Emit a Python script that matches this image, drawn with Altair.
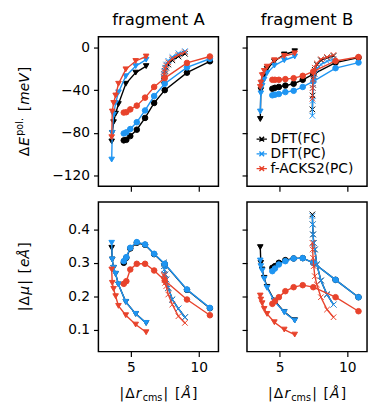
import altair as alt
import pandas as pd

methods = ["DFT(FC)", "DFT(PC)", "f-ACKS2(PC)"]
colors = ["#000000", "#1f95f2", "#e8432c"]

x_tri = [3.58, 3.62, 3.72, 3.87, 4.08, 4.62, 5.35, 6.12]
x_circ = [4.47, 4.66, 4.95, 5.43, 6.04, 6.71, 7.49, 9.13, 10.82]
x_cross = [7.42, 7.44, 7.47, 7.52, 7.6, 7.75, 8.05, 8.5, 8.98]

# fragment A, polarization energy [meV]
eA_tri_fc = [-88, -80, -70, -62, -53, -34, -23.6, -17.5]
eA_tri_pc = [-105, -80, -63, -52, -42, -27, -17.5, -11.5]
eA_tri_ack = [-84, -60, -52, -45, -34, -20.5, -12.7, -8.5]
eA_circ_fc = [-87, -86.5, -83, -77, -66, -52, -40, -23.6, -13]
eA_circ_pc = [-80.5, -79.5, -76.4, -70, -59, -45.5, -34, -18.7, -10.6]
eA_circ_ack = [-61, -60.6, -58, -54.5, -47, -37, -28.7, -14.5, -8.5]
eA_cross_fc = [-31, -28, -25, -22, -19, -16, -12, -8.5, -6]
eA_cross_pc = [-28, -25, -22, -19, -16, -12.5, -9, -5.5, -3.5]
eA_cross_ack = [-29, -26, -23, -20, -17, -14, -10.5, -7, -4.5]

# fragment B, polarization energy [meV]
eB_tri_fc = [-67, -40, -33, -26, -20, -13, -6.6, -3.6]
eB_tri_pc = [-60, -43, -36, -30, -24, -17, -12, -8.5]
eB_tri_ack = [-37, -33, -26, -22, -18, -12, -8, -5.5]
eB_circ_fc = [-38.7, -37.8, -37, -35.7, -34, -30.3, -25, -14.2, -9.6]
eB_circ_pc = [-44.8, -44.2, -43.6, -41.8, -40.6, -37, -31.8, -19.4, -14.2]
eB_circ_ack = [-30.3, -30.3, -30.3, -29.7, -28.8, -26.6, -22.5, -12.7, -9]
eB_cross_fc = [-58, -45, -35, -27, -21, -16, -12, -9.5, -8]
eB_cross_pc = [-64, -50, -38, -30, -25, -20, -16, -13, -11]
eB_cross_ack = [-48, -38, -30, -24, -19, -15, -11, -9, -7]

# fragment A, dipole change [eÅ]
mA_tri_fc = [0.345, 0.31, 0.285, 0.267, 0.235, 0.183, 0.147, 0.12]
mA_tri_pc = [0.36, 0.31, 0.285, 0.267, 0.235, 0.183, 0.147, 0.12]
mA_tri_ack = [0.28, 0.24, 0.222, 0.2, 0.171, 0.143, 0.115, 0.092]
mA_circ_fc = [0.30, 0.315, 0.343, 0.36, 0.354, 0.326, 0.296, 0.219, 0.164]
mA_circ_pc = [0.305, 0.317, 0.345, 0.362, 0.355, 0.327, 0.297, 0.22, 0.165]
mA_circ_ack = [0.237, 0.245, 0.28, 0.297, 0.297, 0.277, 0.247, 0.19, 0.143]
mA_cross_fc = [0.30, 0.29, 0.28, 0.265, 0.25, 0.225, 0.19, 0.163, 0.137]
mA_cross_pc = [0.30, 0.29, 0.28, 0.265, 0.25, 0.225, 0.19, 0.163, 0.137]
mA_cross_ack = [0.265, 0.26, 0.25, 0.24, 0.23, 0.205, 0.175, 0.14, 0.12]

# fragment B, dipole change [eÅ]
mB_tri_fc = [0.347, 0.30, 0.28, 0.255, 0.228, 0.187, 0.153, 0.128]
mB_tri_pc = [0.307, 0.29, 0.277, 0.252, 0.225, 0.185, 0.152, 0.127]
mB_tri_ack = [0.202, 0.19, 0.179, 0.162, 0.147, 0.122, 0.1, 0.085]
mB_circ_fc = [0.285, 0.29, 0.30, 0.308, 0.313, 0.314, 0.30, 0.249, 0.197]
mB_circ_pc = [0.275, 0.283, 0.295, 0.305, 0.313, 0.314, 0.30, 0.249, 0.197]
mB_circ_ack = [0.177, 0.185, 0.197, 0.215, 0.227, 0.233, 0.227, 0.197, 0.155]
mB_cross_fc = [0.445, 0.415, 0.385, 0.36, 0.34, 0.295, 0.247, 0.205, 0.175]
mB_cross_pc = [0.44, 0.415, 0.385, 0.36, 0.34, 0.295, 0.247, 0.205, 0.175]
mB_cross_ack = [0.36, 0.34, 0.315, 0.29, 0.26, 0.235, 0.197, 0.16, 0.137]

xticks = [5, 10]
e_ticks = [0, -40, -80, -120]
m_ticks = [0.1, 0.2, 0.3, 0.4]

series = {
    ("A", "E"): {"tri": [eA_tri_fc, eA_tri_pc, eA_tri_ack],
                 "circ": [eA_circ_fc, eA_circ_pc, eA_circ_ack],
                 "cross": [eA_cross_fc, eA_cross_pc, eA_cross_ack]},
    ("B", "E"): {"tri": [eB_tri_fc, eB_tri_pc, eB_tri_ack],
                 "circ": [eB_circ_fc, eB_circ_pc, eB_circ_ack],
                 "cross": [eB_cross_fc, eB_cross_pc, eB_cross_ack]},
    ("A", "M"): {"tri": [mA_tri_fc, mA_tri_pc, mA_tri_ack],
                 "circ": [mA_circ_fc, mA_circ_pc, mA_circ_ack],
                 "cross": [mA_cross_fc, mA_cross_pc, mA_cross_ack]},
    ("B", "M"): {"tri": [mB_tri_fc, mB_tri_pc, mB_tri_ack],
                 "circ": [mB_circ_fc, mB_circ_pc, mB_circ_ack],
                 "cross": [mB_cross_fc, mB_cross_pc, mB_cross_ack]},
}
xs_by_kind = {"tri": x_tri, "circ": x_circ, "cross": x_cross}

rows = []
for (frag, q), kinds in series.items():
    for kind, vals in kinds.items():
        for m, ys in zip(methods, vals):
            for i, (xv, yv) in enumerate(zip(xs_by_kind[kind], ys)):
                rows.append(dict(frag=frag, q=q, kind=kind, method=m, i=i, x=xv, y=yv))
df = pd.DataFrame(rows)

FONT = "DejaVu Sans"
X_PATH = "M-1,-1L1,1M1,-1L-1,1"
shape_scale = alt.Scale(domain=["tri", "circ", "cross"], range=["triangle-down", "circle", X_PATH])
color_scale = alt.Scale(domain=methods, range=colors)

W = {'|': 690, 'Δ': 1401, 'r': 842, 'c': 1126, 'm': 1995, 's': 1067, ' ': 651,
     '[': 799, ']': 799, 'Å': 1401, 'E': 1294, 'p': 1300, 'o': 1253, 'l': 569,
     '.': 651, 'e': 1260, 'V': 1401, 'μ': 1300}
GAP = 1.2


def tw(s, size):
    return sum(W.get(ch, 1200) for ch in s) / 2048 * size


one = pd.DataFrame({"k": [0]})


def mathtext(pieces, ax, ay, rotate=False):
    total = sum(tw(t, s) + GAP for t, s, _, _ in pieces) - GAP
    pos = -total / 2
    out = []
    for t, s, ital, shift in pieces:
        if t.strip():
            if rotate:
                px, py = ax - shift, ay - pos
            else:
                px, py = ax + pos, ay - shift
            out.append(alt.Chart(one).mark_text(
                text=t, fontSize=s, font=FONT, fontStyle="italic" if ital else "normal",
                align="left", baseline="alphabetic", angle=270 if rotate else 0, color="black"
            ).encode(x=alt.value(px), y=alt.value(py)))
        pos += tw(t, s) + GAP
    return out


PW = 122
PH = 152


def panel(frag, q, ydom, yticks, ylabels, xlabels, legend, title=None, ytitle=None, xtitle=False):
    d = df[(df.frag == frag) & (df.q == q)]
    base = alt.Chart(d)
    xenc = alt.X("x:Q", scale=alt.Scale(domain=[2.6, 11.45], nice=False, zero=False),
                 axis=alt.Axis(values=xticks, labels=xlabels, title=None))
    yenc = alt.Y("y:Q", scale=alt.Scale(domain=ydom, nice=False, zero=False),
                 axis=alt.Axis(values=yticks, labels=ylabels, title=None))
    if legend:
        leg = alt.Legend(orient="none", legendX=8, legendY=97, title=None, labelFontSize=14,
                         labelFont=FONT, labelColor="black",
                         symbolType="M-1,0H1M-0.45,-0.45L0.45,0.45M0.45,-0.45L-0.45,0.45",
                         symbolSize=110, symbolStrokeWidth=1.4, rowPadding=1, labelOffset=2,
                         padding=0)
    else:
        leg = None
    layers = []
    for m in methods:
        s = base.transform_filter(alt.datum.method == m)
        layers.append(s.mark_line(strokeWidth=1.4).encode(
            x=xenc, y=yenc, detail="kind:N", order="i:Q",
            color=alt.Color("method:N", scale=color_scale, legend=leg)))
        layers.append(s.mark_point(filled=True, size=32, strokeWidth=1, opacity=1).encode(
            x=xenc, y=yenc,
            shape=alt.Shape("kind:N", scale=shape_scale, legend=None),
            color=alt.Color("method:N", scale=color_scale, legend=leg),
            stroke=alt.Stroke("method:N", scale=color_scale, legend=None)))
    if ytitle is not None:
        layers += mathtext(ytitle, -71, PH / 2, rotate=True)
    if xtitle:
        layers += mathtext([("|", 14, False, 0), ("Δ", 14, False, 0), ("r", 14, True, 0),
                            ("cms", 9.8, False, -3.5), ("|", 14, False, 0), (" ", 14, False, 0),
                            ("[", 14, False, 0), ("Å", 14, True, 0), ("]", 14, False, 0)],
                           PW / 2, PH + 47)
    ch = alt.layer(*layers).properties(width=PW, height=PH)
    if title:
        ch = ch.properties(title=alt.TitleParams(title, fontSize=16.7, font=FONT, fontWeight="normal",
                                                 anchor="middle", offset=8, color="black"))
    return ch


ytitle_E = [("Δ", 14, False, 0), ("E", 14, True, 0), ("pol.", 9.8, False, 5.5),
            (" ", 14, False, 0), ("[", 14, False, 0), ("meV", 14, True, 0), ("]", 14, False, 0)]
ytitle_M = [("|", 14, False, 0), ("Δ", 14, False, 0), ("μ", 14, True, 0), ("|", 14, False, 0),
            (" ", 14, False, 0), ("[", 14, False, 0), ("eÅ", 14, True, 0), ("]", 14, False, 0)]

E_DOM = [-130, 10]
M_DOM = [0.034, 0.482]

pAE = panel("A", "E", E_DOM, e_ticks, True, False, False, title="fragment A", ytitle=ytitle_E)
pBE = panel("B", "E", E_DOM, e_ticks, False, False, True, title="fragment B")
pAM = panel("A", "M", M_DOM, m_ticks, True, True, False, ytitle=ytitle_M, xtitle=True)
pBM = panel("B", "M", M_DOM, m_ticks, False, True, False, xtitle=True)

res = dict(color="independent", stroke="independent", shape="independent",
           x="independent", y="independent")

chart = alt.concat(pAE, pBE, pAM, pBM, columns=2, spacing={"row": 16, "column": 29},
                   bounds="flush").resolve_scale(**res).properties(
    padding={"left": 14, "top": 8, "right": 1, "bottom": 2}
).configure_view(stroke="black", strokeWidth=1.5).configure_axis(
    domain=False, grid=False, ticks=True, tickColor="black", tickWidth=1.2, tickSize=5,
    labelFontSize=14, labelFont=FONT, labelColor="black", labelPadding=4
)

chart.save("out.html", embed_options={"renderer": "svg", "actions": False})
